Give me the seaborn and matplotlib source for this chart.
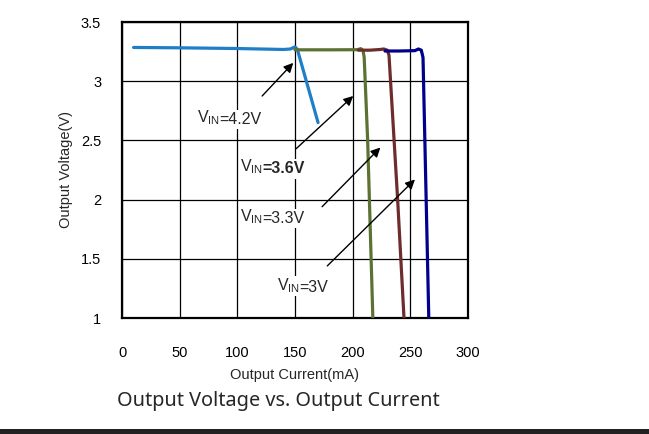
import matplotlib
matplotlib.use('Agg')
import matplotlib.pyplot as plt
import seaborn as sns
import pandas as pd
from matplotlib.patches import Rectangle

sns.set_style('white')
plt.rcParams['font.family'] = ['Liberation Sans', 'DejaVu Sans']
plt.rcParams['mathtext.fontset'] = 'custom'
plt.rcParams['mathtext.rm'] = 'Liberation Sans'

# curves (mA, V)
i_42 = [10, 50, 100, 140, 146, 150, 152, 170]
v_42 = [3.285, 3.282, 3.276, 3.268, 3.272, 3.29, 3.27, 2.65]
i_36 = [150, 180, 204, 207, 209, 210, 213, 217.5]
v_36 = [3.265, 3.265, 3.266, 3.275, 3.26, 3.2, 2.5, 1.0]
i_33 = [205, 215, 224, 227, 230, 231.5, 239, 244.5]
v_33 = [3.262, 3.262, 3.268, 3.272, 3.262, 3.22, 2.0, 1.0]
i_30 = [228, 240, 254, 257, 259.5, 261, 266]
v_30 = [3.255, 3.255, 3.258, 3.272, 3.262, 3.2, 1.0]

rows = []
for name, xs, ys in [('4.2V', i_42, v_42), ('3.6V', i_36, v_36),
                     ('3.3V', i_33, v_33), ('3V', i_30, v_30)]:
    for x, y in zip(xs, ys):
        rows.append({'vin': name, 'current': x, 'voltage': y})
df = pd.DataFrame(rows)

colors = {'4.2V': '#1e7fc8', '3.6V': '#5b7233', '3.3V': '#6e2c2c', '3V': '#00008c'}

values = ['=4.2V', '=3.6V', '=3.3V', '=3V']
bold = [False, True, False, False]
label_xy = [(65, 2.655), (102, 2.235), (102, 1.82), (134, 1.23)]
arrow_tail = [(121.5, 2.875), (151, 2.43), (173.5, 1.94), (178, 1.44)]
arrow_head = [(148.5, 3.155), (200.5, 2.875), (224, 2.44), (254, 2.17)]

fig = plt.figure(figsize=(6.49, 4.34), dpi=100)
ax = fig.add_axes([122 / 649, 1 - 318 / 434, 346 / 649, 296 / 434])

ax.set_xlim(0, 300)
ax.set_ylim(1, 3.5)
ax.set_xticks(range(0, 301, 50))
ax.set_yticks([1, 1.5, 2, 2.5, 3, 3.5])
ax.set_yticklabels(['1', '1.5', '2', '2.5', '3', '3.5'])
ax.grid(True, color='black', lw=0.9)
ax.set_axisbelow(True)
for s in ax.spines.values():
    s.set_color('black')
    s.set_linewidth(1.6)
    s.set_visible(True)
ax.tick_params(length=0, labelsize=10.5, colors='black')
ax.tick_params(axis='x', pad=20)
ax.tick_params(axis='y', pad=15)

for val, b, (x, y) in zip(values, bold, label_xy):
    # subscripted part drawn above the value part so its box does not hide it
    t = ax.text(x, y, r'V$_{\mathrm{IN}}$', ha='left', va='baseline', fontsize=11.5,
                zorder=3.5, bbox=dict(facecolor='white', edgecolor='none', pad=0.2))
    ax.annotate(val, xy=(1, 0), xycoords=t, ha='left', va='bottom', fontsize=11.5,
                fontweight='bold' if b else 'normal', zorder=3,
                bbox=dict(facecolor='white', edgecolor='none', pad=1.5),
                xytext=(-0.4, 0), textcoords='offset points')

sns.lineplot(data=df, x='current', y='voltage', hue='vin', palette=colors,
             sort=False, estimator=None, lw=2.3, legend=False, ax=ax, zorder=4)

for tl, h in zip(arrow_tail, arrow_head):
    ax.annotate('', xy=h, xytext=tl, zorder=5,
                arrowprops=dict(arrowstyle='-|>', color='black', lw=1.0,
                                mutation_scale=14, shrinkA=0, shrinkB=0))

ax.set_xlabel('Output Current(mA)', fontsize=10.5, labelpad=6)
ax.set_ylabel('Output Voltage(V)', fontsize=10.5, labelpad=6)

fig.text(278 / 649, 1 - 401 / 434, 'Output Voltage vs. Output Current',
         ha='center', va='center', fontsize=14.3, family=['Noto Sans', 'DejaVu Sans'])
fig.patches.append(Rectangle((0, 0), 1, 5 / 434, transform=fig.transFigure,
                             facecolor='#222222', edgecolor='none'))

fig.savefig('out.png', dpi=100)
